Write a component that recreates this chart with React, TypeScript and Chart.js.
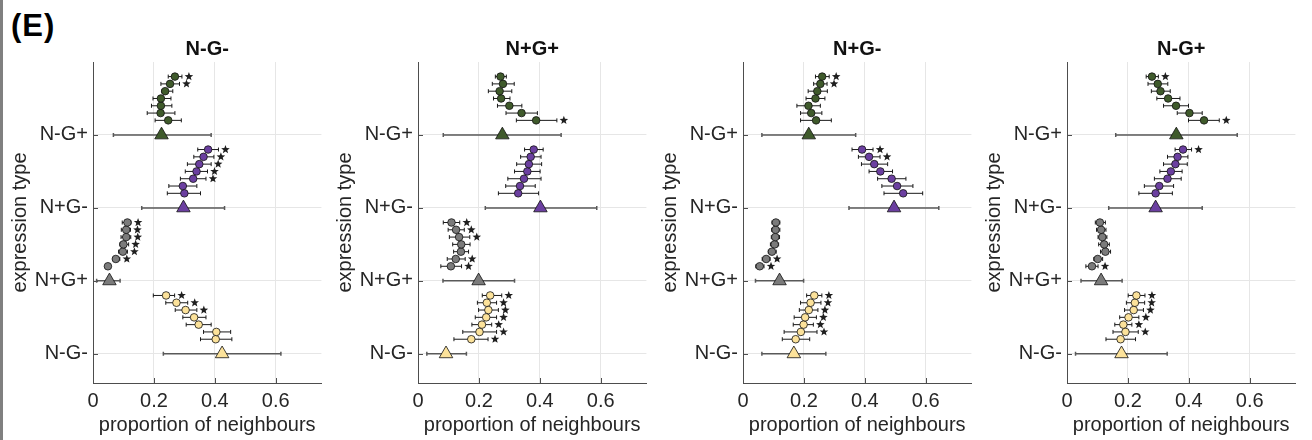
import React, { useEffect, useRef } from 'react';
import { Chart, registerables } from 'chart.js';
Chart.register(...registerables);

// categories on the y axis, bottom to top
const categories = ['N-G-', 'N+G+', 'N+G-', 'N-G+'];
const panelTitles = ['N-G-', 'N+G+', 'N+G-', 'N-G+'];
const xTickValues = [0, 0.2, 0.4, 0.6];
const xMax = 0.75;

// ---- Panel 1: N-G- ----
// triangle (group summary) per category [N-G-, N+G+, N+G-, N-G+]
const p1TriMean = [0.424, 0.054, 0.297, 0.225];
const p1TriLow = [0.231, 0.012, 0.16, 0.067];
const p1TriHigh = [0.617, 0.089, 0.432, 0.388];
// circles per category, 7 values each ordered bottom -> top
const p1Mean = [
  [0.403, 0.405, 0.347, 0.332, 0.304, 0.274, 0.24],
  [0.049, 0.075, 0.098, 0.1, 0.109, 0.109, 0.113],
  [0.3, 0.295, 0.329, 0.34, 0.349, 0.363, 0.378],
  [0.247, 0.222, 0.223, 0.223, 0.237, 0.253, 0.269],
];
const p1Low = [
  [0.353, 0.363, 0.306, 0.295, 0.27, 0.239, 0.198],
  [0.041, 0.065, 0.084, 0.088, 0.092, 0.093, 0.096],
  [0.244, 0.249, 0.287, 0.303, 0.31, 0.331, 0.344],
  [0.204, 0.178, 0.192, 0.197, 0.226, 0.223, 0.247],
];
const p1High = [
  [0.456, 0.452, 0.388, 0.371, 0.341, 0.311, 0.268],
  [0.056, 0.088, 0.113, 0.117, 0.124, 0.123, 0.125],
  [0.353, 0.341, 0.371, 0.376, 0.388, 0.397, 0.412],
  [0.29, 0.269, 0.259, 0.256, 0.262, 0.284, 0.292],
];
const p1Star = [
  [0, 0, 0, 0, 1, 1, 1],
  [0, 1, 1, 1, 1, 1, 1],
  [0, 0, 1, 1, 1, 1, 1],
  [0, 0, 0, 0, 0, 1, 1],
];

// ---- Panel 2: N+G+ ----
const p2TriMean = [0.092, 0.199, 0.402, 0.277];
const p2TriLow = [0.029, 0.082, 0.221, 0.083];
const p2TriHigh = [0.159, 0.317, 0.587, 0.47];
const p2Mean = [
  [0.175, 0.202, 0.21, 0.224, 0.231, 0.226, 0.237],
  [0.108, 0.124, 0.141, 0.142, 0.135, 0.125, 0.11],
  [0.329, 0.335, 0.348, 0.359, 0.364, 0.37, 0.38],
  [0.388, 0.34, 0.3, 0.273, 0.268, 0.279, 0.271],
];
const p2Low = [
  [0.118, 0.147, 0.177, 0.188, 0.199, 0.195, 0.211],
  [0.075, 0.096, 0.117, 0.114, 0.103, 0.099, 0.083],
  [0.264, 0.288, 0.295, 0.317, 0.324, 0.337, 0.35],
  [0.323, 0.289, 0.261, 0.248, 0.231, 0.244, 0.254],
];
const p2High = [
  [0.23, 0.258, 0.242, 0.258, 0.264, 0.258, 0.275],
  [0.143, 0.155, 0.166, 0.171, 0.17, 0.152, 0.137],
  [0.396, 0.385, 0.404, 0.401, 0.406, 0.404, 0.411],
  [0.456, 0.392, 0.341, 0.302, 0.308, 0.316, 0.29],
];
const p2Star = [
  [1, 1, 1, 1, 1, 1, 1],
  [1, 1, 0, 0, 1, 1, 1],
  [0, 0, 0, 0, 0, 0, 0],
  [1, 0, 0, 0, 0, 0, 0],
];

// ---- Panel 3: N+G- ----
const p3TriMean = [0.167, 0.12, 0.496, 0.216];
const p3TriLow = [0.062, 0.041, 0.348, 0.062];
const p3TriHigh = [0.272, 0.199, 0.643, 0.37];
const p3Mean = [
  [0.173, 0.19, 0.199, 0.204, 0.216, 0.222, 0.234],
  [0.055, 0.076, 0.095, 0.104, 0.106, 0.107, 0.108],
  [0.526, 0.506, 0.488, 0.451, 0.431, 0.414, 0.391],
  [0.24, 0.224, 0.215, 0.238, 0.244, 0.254, 0.26],
];
const p3Low = [
  [0.129, 0.135, 0.165, 0.168, 0.185, 0.189, 0.209],
  [0.042, 0.063, 0.083, 0.09, 0.093, 0.094, 0.095],
  [0.463, 0.456, 0.442, 0.414, 0.389, 0.379, 0.358],
  [0.189, 0.189, 0.177, 0.207, 0.214, 0.232, 0.238],
];
const p3High = [
  [0.219, 0.243, 0.231, 0.241, 0.246, 0.256, 0.259],
  [0.069, 0.089, 0.109, 0.117, 0.12, 0.121, 0.121],
  [0.59, 0.558, 0.535, 0.491, 0.475, 0.45, 0.427],
  [0.29, 0.259, 0.254, 0.269, 0.277, 0.276, 0.283],
];
const p3Star = [
  [0, 1, 1, 1, 1, 1, 1],
  [1, 1, 0, 0, 0, 0, 0],
  [0, 0, 0, 0, 0, 1, 1],
  [0, 0, 0, 0, 0, 1, 1],
];

// ---- Panel 4: N-G+ ----
const p4TriMean = [0.179, 0.112, 0.291, 0.359];
const p4TriLow = [0.028, 0.046, 0.137, 0.16];
const p4TriHigh = [0.329, 0.181, 0.444, 0.559];
const p4Mean = [
  [0.176, 0.192, 0.185, 0.202, 0.219, 0.223, 0.228],
  [0.082, 0.101, 0.126, 0.122, 0.116, 0.112, 0.108],
  [0.291, 0.303, 0.33, 0.341, 0.356, 0.363, 0.381],
  [0.45, 0.402, 0.358, 0.332, 0.307, 0.298, 0.279],
];
const p4Low = [
  [0.128, 0.151, 0.157, 0.173, 0.189, 0.195, 0.201],
  [0.062, 0.088, 0.11, 0.104, 0.102, 0.097, 0.093],
  [0.236, 0.254, 0.287, 0.305, 0.317, 0.33, 0.355],
  [0.399, 0.362, 0.317, 0.295, 0.277, 0.266, 0.26],
];
const p4High = [
  [0.225, 0.234, 0.213, 0.236, 0.251, 0.255, 0.256],
  [0.102, 0.117, 0.143, 0.139, 0.131, 0.128, 0.126],
  [0.346, 0.35, 0.375, 0.378, 0.395, 0.397, 0.409],
  [0.5, 0.444, 0.399, 0.371, 0.339, 0.331, 0.3],
];
const p4Star = [
  [0, 1, 1, 1, 1, 1, 1],
  [1, 0, 0, 0, 0, 0, 0],
  [0, 0, 0, 0, 0, 0, 1],
  [1, 0, 0, 0, 0, 0, 1],
];

// ---- styling (not data) ----
const COLORS = ['#FCE29A', '#7B7B7B', '#6B3FA0', '#3F5A2B'];
const FONT = "'Liberation Sans', Arial, Helvetica, sans-serif";
const TEXT = '#262626';
const AREA_LEFTS = [93, 418, 743, 1067];
const AREA_WIDTH = 237;
const YAXIS_W = 90;
const AREA_TOP = 62;
const AREA_BOTTOM = 383;
const H = 440;

const panels = [
  { title: panelTitles[0], triMean: p1TriMean, triLow: p1TriLow, triHigh: p1TriHigh, mean: p1Mean, low: p1Low, high: p1High, star: p1Star },
  { title: panelTitles[1], triMean: p2TriMean, triLow: p2TriLow, triHigh: p2TriHigh, mean: p2Mean, low: p2Low, high: p2High, star: p2Star },
  { title: panelTitles[2], triMean: p3TriMean, triLow: p3TriLow, triHigh: p3TriHigh, mean: p3Mean, low: p3Low, high: p3High, star: p3Star },
  { title: panelTitles[3], triMean: p4TriMean, triLow: p4TriLow, triHigh: p4TriHigh, mean: p4Mean, low: p4Low, high: p4High, star: p4Star },
];

function drawStar(ctx: CanvasRenderingContext2D, cx: number, cy: number, ro: number, ri: number) {
  ctx.beginPath();
  for (let i = 0; i < 10; i++) {
    const r = i % 2 === 0 ? ro : ri;
    const a = -Math.PI / 2 + (i * Math.PI) / 5;
    const px = cx + Math.cos(a) * r;
    const py = cy + Math.sin(a) * r;
    if (i === 0) ctx.moveTo(px, py);
    else ctx.lineTo(px, py);
  }
  ctx.closePath();
  ctx.fill();
}

const panelPlugin = {
  id: 'panelExtras',
  beforeDatasetsDraw(chart: any) {
    const ctx = chart.ctx as CanvasRenderingContext2D;
    const xs = chart.scales.x;
    const area = chart.chartArea;
    // inward tick marks
    ctx.save();
    ctx.strokeStyle = '#4d4d4d';
    ctx.lineWidth = 1;
    ctx.beginPath();
    for (let c = 0; c < categories.length; c++) {
      const y = Math.round(chart.scales.y.getPixelForValue(c + 1)) + 0.5;
      ctx.moveTo(area.left, y);
      ctx.lineTo(area.left + 5, y);
    }
    for (const v of xTickValues) {
      const x = Math.round(xs.getPixelForValue(v)) + 0.5;
      ctx.moveTo(x, area.bottom);
      ctx.lineTo(x, area.bottom - 5);
    }
    ctx.stroke();
    ctx.restore();

    chart.data.datasets.forEach((ds: any, i: number) => {
      const meta = chart.getDatasetMeta(i);
      ctx.save();
      const isTri = ds.kind === 'tri';
      ctx.strokeStyle = isTri ? '#595959' : '#1a1a1a';
      ctx.lineWidth = isTri ? 1.5 : 1;
      const cap = 2;
      meta.data.forEach((pt: any, j: number) => {
        const y = pt.y;
        const x1 = xs.getPixelForValue(ds.low[j]);
        const x2 = xs.getPixelForValue(ds.high[j]);
        ctx.beginPath();
        ctx.moveTo(x1, y);
        ctx.lineTo(x2, y);
        ctx.moveTo(x1, y - cap);
        ctx.lineTo(x1, y + cap);
        ctx.moveTo(x2, y - cap);
        ctx.lineTo(x2, y + cap);
        ctx.stroke();
      });
      ctx.restore();
    });
  },
  afterDatasetsDraw(chart: any) {
    const ctx = chart.ctx as CanvasRenderingContext2D;
    const xs = chart.scales.x;
    ctx.save();
    ctx.fillStyle = '#1f1f1f';
    chart.data.datasets.forEach((ds: any, i: number) => {
      if (ds.kind !== 'circ') return;
      const meta = chart.getDatasetMeta(i);
      meta.data.forEach((pt: any, j: number) => {
        if (!ds.star[j]) return;
        const x = xs.getPixelForValue(ds.high[j]) + 7;
        drawStar(ctx, x, pt.y, 4.5, 1.9);
      });
    });
    ctx.restore();
  },
  afterDraw(chart: any) {
    const ctx = chart.ctx as CanvasRenderingContext2D;
    const area = chart.chartArea;
    ctx.save();
    ctx.font = `bold 20px ${FONT}`;
    ctx.fillStyle = '#111';
    ctx.textAlign = 'center';
    ctx.textBaseline = 'middle';
    ctx.fillText(chart.options.panelTitle, (area.left + area.right) / 2, 49);
    ctx.restore();
  },
};

function Panel({ index }: { index: number }) {
  const ref = useRef<HTMLCanvasElement | null>(null);
  const p = panels[index];
  const left = AREA_LEFTS[index] - YAXIS_W;
  const width = YAXIS_W + AREA_WIDTH;

  useEffect(() => {
    if (!ref.current) return;
    const datasets: any[] = [];
    for (let g = 0; g < categories.length; g++) {
      datasets.push({
        kind: 'circ',
        data: p.mean[g].map((m, k) => ({ x: m, y: g + 1 + 0.2 + 0.1 * k })),
        low: p.low[g],
        high: p.high[g],
        star: p.star[g],
        pointStyle: 'circle',
        pointRadius: 3.8,
        backgroundColor: COLORS[g],
        borderColor: '#111',
        borderWidth: 0.8,
      });
      datasets.push({
        kind: 'tri',
        data: [{ x: p.triMean[g], y: g + 1 }],
        low: [p.triLow[g]],
        high: [p.triHigh[g]],
        pointStyle: 'triangle',
        pointRadius: 7.8,
        backgroundColor: COLORS[g],
        borderColor: '#111',
        borderWidth: 0.8,
      });
    }
    const chart = new Chart(ref.current, {
      type: 'scatter',
      data: { datasets },
      plugins: [panelPlugin as any],
      options: {
        animation: false,
        responsive: false,
        devicePixelRatio: 1,
        panelTitle: p.title,
        layout: { padding: { top: AREA_TOP, left: 0, right: 0, bottom: 0 } },
        plugins: { legend: { display: false }, tooltip: { enabled: false }, title: { display: false } },
        scales: {
          x: {
            type: 'linear',
            min: 0,
            max: xMax,
            afterBuildTicks: (s: any) => {
              s.ticks = xTickValues.map((v) => ({ value: v }));
            },
            afterFit: (s: any) => {
              s.height = H - AREA_BOTTOM;
            },
            ticks: {
              font: { family: FONT, size: 20 },
              color: TEXT,
              padding: 6,
              maxRotation: 0,
              callback: (v: any) => (v === 0 ? '0' : String(v)),
            },
            grid: { color: '#e6e6e6', lineWidth: 1, drawTicks: false },
            border: { color: '#4d4d4d', width: 1 },
            title: {
              display: true,
              text: 'proportion of neighbours',
              font: { family: FONT, size: 20 },
              color: TEXT,
              padding: { top: 0, bottom: 3 },
            },
          },
          y: {
            type: 'linear',
            min: 0.6,
            max: 5,
            afterBuildTicks: (s: any) => {
              s.ticks = categories.map((_, i) => ({ value: i + 1 }));
            },
            afterFit: (s: any) => {
              s.width = YAXIS_W;
            },
            ticks: {
              font: { family: FONT, size: 20 },
              color: TEXT,
              padding: 5,
              callback: (v: any) => categories[Math.round(v) - 1],
            },
            grid: { color: '#e6e6e6', lineWidth: 1, drawTicks: false },
            border: { color: '#4d4d4d', width: 1 },
            title: {
              display: true,
              text: 'expression type',
              font: { family: FONT, size: 20 },
              color: TEXT,
              padding: { top: 5, bottom: 0 },
            },
          },
        },
      } as any,
    });
    return () => chart.destroy();
  }, []);

  return (
    <canvas
      ref={ref}
      width={width}
      height={H}
      style={{ position: 'absolute', left, top: 0, width, height: H }}
    />
  );
}

export default function App() {
  return (
    <div style={{ position: 'absolute', left: 0, top: 0, width: 1312, height: H, background: '#fff', overflow: 'hidden' }}>
      <div style={{ position: 'absolute', left: 0, top: 0, width: 3, height: H, background: '#808080' }} />
      <div
        style={{
          position: 'absolute',
          left: 11,
          top: 8,
          fontFamily: FONT,
          fontWeight: 900,
          fontSize: 31,
          lineHeight: '36px',
          color: '#000',
          letterSpacing: 1,
        }}
      >
        (E)
      </div>
      {panels.map((_, i) => (
        <Panel key={i} index={i} />
      ))}
    </div>
  );
}
